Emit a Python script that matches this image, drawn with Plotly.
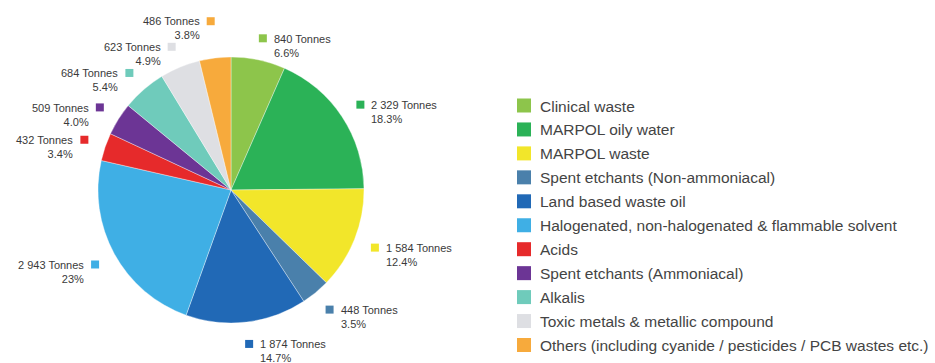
import math
import plotly.graph_objects as go

# ---- data -------------------------------------------------------------
categories = [
    "Clinical waste",
    "MARPOL oily water",
    "MARPOL waste",
    "Spent etchants (Non-ammoniacal)",
    "Land based waste oil",
    "Halogenated, non-halogenated & flammable solvent",
    "Acids",
    "Spent etchants (Ammoniacal)",
    "Alkalis",
    "Toxic metals & metallic compound",
    "Others (including cyanide / pesticides / PCB wastes etc.)",
]
tonnes = [840, 2329, 1584, 448, 1874, 2943, 432, 509, 684, 623, 486]
percent_labels = ["6.6%", "18.3%", "12.4%", "3.5%", "14.7%", "23%",
                  "3.4%", "4.0%", "5.4%", "4.9%", "3.8%"]

colors = ["#8dc54b", "#2bb257", "#f2e62a", "#4a80ab", "#2169b6", "#3fafe5",
          "#e62a2b", "#6c3595", "#6fcbbb", "#dedfe3", "#f7aa3c"]

# ---- canvas / geometry (pixels) --------------------------------------
W, H = 935, 363
CX, CY, R = 231, 190, 133          # pie centre and radius
LABEL_R = 155                       # radius of the little label squares
label_push = {10: 15}               # extra outward offset for crowded labels
FONT = "Liberation Sans, Arial, Helvetica, sans-serif"
TEXT_COLOR = "#3a3a3a"


def px(x):
    return x / W


def py(y):
    return 1 - y / H


fig = go.Figure()

fig.add_trace(go.Pie(
    labels=categories,
    values=tonnes,
    sort=False,
    direction="clockwise",
    rotation=0,
    marker=dict(colors=colors, line=dict(color="rgba(255,255,255,0.6)", width=0.6)),
    textinfo="none",
    hoverinfo="label+value+percent",
    showlegend=False,
    domain=dict(x=[px(CX - R), px(CX + R)], y=[py(CY + R), py(CY - R)]),
))

shapes = []
annotations = []

# ---- slice labels: coloured square + "N Tonnes / p%" ----------------
total = sum(tonnes)
cum = 0.0
for i, (v, pct, col) in enumerate(zip(tonnes, percent_labels, colors)):
    mid = (cum + v / 2) / total * 2 * math.pi
    cum += v
    r = LABEL_R + label_push.get(i, 0)
    sx = CX + r * math.sin(mid)
    sy = CY - r * math.cos(mid)
    s = 4
    shapes.append(dict(type="rect", xref="paper", yref="paper",
                       x0=px(sx - s), x1=px(sx + s), y0=py(sy + s), y1=py(sy - s),
                       fillcolor=col, line=dict(width=0)))
    txt = f"{v:,}".replace(",", " ") + " Tonnes<br>" + pct
    right_side = math.degrees(mid) < 180
    annotations.append(dict(
        xref="paper", yref="paper",
        x=px(sx + 10) if right_side else px(sx - 10),
        y=py(sy + 7.2),
        xanchor="left" if right_side else "right",
        yanchor="middle",
        align="left" if right_side else "right",
        text=txt, showarrow=False, borderpad=0,
        font=dict(family=FONT, size=11, color=TEXT_COLOR),
    ))

# ---- legend -----------------------------------------------------------
LEG_X, LEG_Y0, LEG_STEP, SQ = 524, 105.5, 23.95, 7
for i, (name, col) in enumerate(zip(categories, colors)):
    yc = LEG_Y0 + i * LEG_STEP
    shapes.append(dict(type="rect", xref="paper", yref="paper",
                       x0=px(LEG_X - SQ), x1=px(LEG_X + SQ),
                       y0=py(yc + SQ), y1=py(yc - SQ),
                       fillcolor=col, line=dict(width=0)))
    annotations.append(dict(
        xref="paper", yref="paper", x=px(539), y=py(yc + 0.5),
        xanchor="left", yanchor="middle", text=name, showarrow=False,
        borderpad=0, font=dict(family=FONT, size=15.5, color="#444444"),
    ))

fig.update_layout(
    width=W, height=H,
    margin=dict(l=0, r=0, t=0, b=0),
    paper_bgcolor="white",
    plot_bgcolor="white",
    shapes=shapes,
    annotations=annotations,
    showlegend=False,
)

fig.write_html("out.html")
